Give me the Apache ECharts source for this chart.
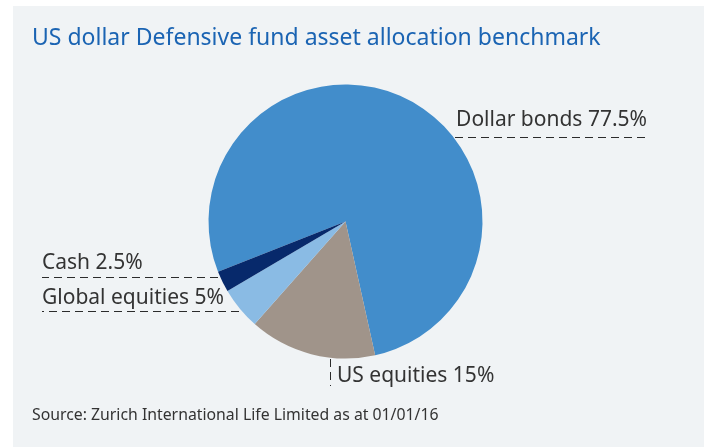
<!DOCTYPE html>
<html>
<head>
<meta charset="utf-8">
<script src="https://cdn.jsdelivr.net/npm/echarts@6/dist/echarts.min.js"></script>
<style>
  html, body { margin: 0; padding: 0; background: #fff; }
  #chart { width: 704px; height: 447px; }
</style>
</head>
<body>
<div id="chart"></div>
<script>
// ------------------ data ------------------
var categories = ['Dollar bonds', 'US equities', 'Global equities', 'Cash'];
var shares = [77.5, 15, 5, 2.5];
var sliceColors = ['#428dcb', '#a0948a', '#8abbe4', '#07296b'];

var TITLE = 'US dollar Defensive fund asset allocation benchmark';
var SOURCE = 'Source: Zurich International Life Limited as at 01/01/16';

var FONT = '"Noto Sans", "Open Sans", sans-serif';

// where each label sits, and its dashed leader line
var labelSpots = [
    {x: 647, y: 120, align: 'right', line: [[416, 137.5], [530, 137.5], [647, 137.5]]},
    {x: 337, y: 376, align: 'left', line: [[330.5, 333], [330.5, 360], [330.5, 386]]},
    {x: 42, y: 298, align: 'left', line: [[252, 311.5], [150, 311.5], [42, 311.5]]},
    {x: 42, y: 263, align: 'left', line: [[231, 277.5], [140, 277.5], [42, 277.5]]}
];

function drawPie() {
    var myChart = echarts.init(document.getElementById('chart'), null, {renderer: 'canvas'});

    var pieData = categories.map(function (name, i) {
        return {name: name, value: shares[i], itemStyle: {color: sliceColors[i]}};
    });

    var option = {
        backgroundColor: '#ffffff',
        animation: false,
        graphic: [{
            type: 'rect',
            z: -10,
            silent: true,
            shape: {x: 13, y: 6, width: 691, height: 441},
            style: {fill: '#f0f3f5'}
        }],
        title: [{
            text: TITLE,
            left: 27,
            top: 22,
            textStyle: {
                fontFamily: FONT,
                fontSize: 23,
                fontWeight: 'normal',
                color: '#1b64b3'
            }
        }, {
            text: SOURCE,
            left: 27,
            top: 402,
            textStyle: {
                fontFamily: FONT,
                fontSize: 15.8,
                fontWeight: 'normal',
                color: '#333333'
            }
        }],
        series: [{
            type: 'pie',
            center: [345.5, 221.5],
            radius: 137,
            startAngle: 201.5,
            clockwise: true,
            avoidLabelOverlap: false,
            silent: true,
            emphasis: {disabled: true},
            label: {
                show: true,
                formatter: function (p) {
                    return p.name + ' ' + p.value + '%';
                },
                fontFamily: FONT,
                fontSize: 21,
                color: '#333333'
            },
            labelLine: {
                show: true,
                lineStyle: {color: '#2b2b2b', width: 1, type: [8, 5]}
            },
            labelLayout: function (params) {
                var s = labelSpots[params.dataIndex];
                return {
                    x: s.x,
                    y: s.y,
                    align: s.align,
                    verticalAlign: 'middle',
                    labelLinePoints: s.line
                };
            },
            data: pieData
        }]
    };
    myChart.setOption(option);
}
drawPie();
</script>
</body>
</html>
